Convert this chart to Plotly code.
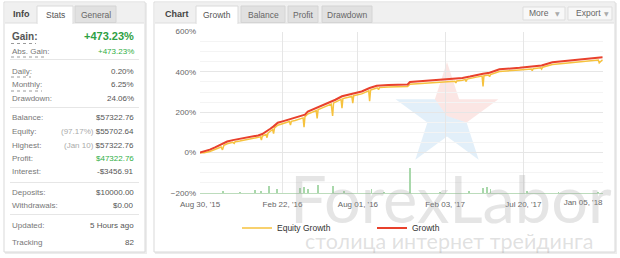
import plotly.graph_objects as go

W, H = 620, 258
FONT = "Liberation Sans, Arial, sans-serif"

# ---------------- data ----------------
growth_dates = ["2015-08-30", "2015-09-08", "2015-09-20", "2015-10-01", "2015-10-12", "2015-10-20",
                "2015-10-27", "2015-11-08", "2015-11-23", "2015-12-12", "2016-01-01", "2016-01-10",
                "2016-01-20", "2016-01-27", "2016-02-03", "2016-02-12", "2016-02-24", "2016-03-05",
                "2016-03-20", "2016-04-03", "2016-04-10", "2016-04-16", "2016-04-28", "2016-05-08",
                "2016-05-25", "2016-06-08", "2016-06-14", "2016-06-28", "2016-07-14", "2016-07-21",
                "2016-08-09", "2016-08-26", "2016-09-10", "2016-10-05", "2016-11-15", "2016-11-20",
                "2016-12-20", "2017-01-20", "2017-02-19", "2017-03-12", "2017-03-28", "2017-04-11",
                "2017-04-25", "2017-05-09", "2017-05-30", "2017-07-12", "2017-08-16", "2017-08-28",
                "2017-09-20", "2017-10-18", "2017-11-17", "2017-12-24", "2018-01-05"]
growth = [0, 6, 15, 26, 38, 48,
          55, 62, 68, 76, 85, 92,
          105, 118, 130, 148, 156, 163,
          170, 180, 188, 203, 215, 225,
          240, 256, 262, 279, 288, 293,
          303, 320, 331, 335, 338, 350,
          355, 359, 363, 370, 377, 385,
          391, 396, 413, 420, 428, 432,
          448, 454, 460, 469, 473]

equity_dates = ["2015-08-30", "2015-09-08", "2015-09-20", "2015-10-01", "2015-10-14", "2015-10-17",
                "2015-10-20", "2015-10-27", "2015-11-08", "2015-11-11", "2015-11-13", "2015-11-23",
                "2015-12-12", "2016-01-01", "2016-01-06", "2016-01-08", "2016-01-10", "2016-01-14",
                "2016-01-18", "2016-01-20", "2016-01-22", "2016-01-27", "2016-02-01", "2016-02-03",
                "2016-02-05", "2016-02-12", "2016-02-24", "2016-03-05", "2016-03-08", "2016-03-10",
                "2016-03-12", "2016-03-20", "2016-04-03", "2016-04-06", "2016-04-08", "2016-04-10",
                "2016-04-16", "2016-04-28", "2016-05-04", "2016-05-06", "2016-05-08", "2016-05-12",
                "2016-05-25", "2016-06-05", "2016-06-08", "2016-06-10", "2016-06-14", "2016-06-24",
                "2016-06-26", "2016-06-28", "2016-06-30", "2016-07-14", "2016-07-19", "2016-07-21",
                "2016-07-23", "2016-08-09", "2016-08-22", "2016-08-24", "2016-08-26", "2016-08-28",
                "2016-09-10", "2016-09-12", "2016-09-14", "2016-09-16", "2016-10-05", "2016-11-15",
                "2016-11-20", "2016-12-20", "2017-01-20", "2017-02-19", "2017-02-24", "2017-02-26",
                "2017-02-28", "2017-03-12", "2017-03-18", "2017-03-20", "2017-03-22", "2017-04-11",
                "2017-04-23", "2017-04-25", "2017-04-27", "2017-05-07", "2017-05-09", "2017-05-11",
                "2017-05-30", "2017-07-12", "2017-08-06", "2017-08-08", "2017-08-10", "2017-08-26",
                "2017-08-28", "2017-08-30", "2017-09-20", "2017-10-18", "2017-11-17", "2017-12-24",
                "2017-12-27", "2017-12-29", "2018-01-02", "2018-01-05"]
equity = [0, 0, 6, 15, 28, 14,
          36, 44, 51, 46, 54, 58,
          66, 74, 78, 62, 82, 86,
          90, 74, 96, 106, 114, 94,
          122, 136, 145, 152, 154, 136,
          155, 159, 168, 172, 126, 178,
          191, 204, 208, 170, 213, 217,
          228, 240, 182, 246, 250, 262,
          264, 220, 268, 276, 279, 245,
          282, 291, 303, 306, 255, 310,
          320, 320, 312, 322, 325, 328,
          339, 344, 348, 352, 353, 345,
          355, 359, 362, 352, 364, 374,
          379, 328, 381, 384, 376, 387,
          402, 409, 414, 406, 416, 420,
          414, 423, 437, 443, 449, 458,
          459, 445, 456, 460]

bar_dates = ["2015-10-18", "2015-11-23", "2015-12-25", "2016-01-08", "2016-01-25", "2016-02-10",
             "2016-03-31", "2016-04-08", "2016-04-16", "2016-05-07", "2016-06-08", "2016-07-03",
             "2016-08-30", "2016-09-25", "2016-11-20", "2017-01-23", "2017-03-27", "2017-04-25",
             "2017-05-04", "2017-05-11", "2017-07-27", "2017-10-03", "2017-12-26"]
bar_values = [10, 8, 15, 10, 35, 20,
              25, 30, 20, 40, 35, 12,
              20, 8, 125, 6, 10, 25,
              30, 22, 10, 6, 8]

tick_dates = ["2015-08-30", "2016-02-22", "2016-08-01", "2017-02-03", "2017-07-20", "2018-01-05"]
tick_labels = ["Aug 30, '15", "Feb 22, '16", "Aug 01, '16", "Feb 03, '17", "Jul 20, '17", "Jan 05, '18"]
y_ticks = [-200, 0, 200, 400, 600]
y_labels = [f"{v}%".replace("-", "\u2212") for v in y_ticks]

info_rows = [
    ("Abs. Gain:", "+473.23%", 51),
    ("Daily:", "0.20%", 71),
    ("Monthly:", "6.25%", 85),
    ("Drawdown:", "24.06%", 98),
    ("Balance:", "$57322.76", 118),
    ("Equity:", "<span style='color:#aaa'>(97.17%)</span> $55702.64", 131),
    ("Highest:", "<span style='color:#aaa'>(Jan 10)</span> $57322.76", 145),
    ("Profit:", "$47322.76", 158),
    ("Interest:", "-$3456.91", 171),
    ("Deposits:", "$10000.00", 192),
    ("Withdrawals:", "$0.00", 205),
    ("Updated:", "5 Hours ago", 225),
    ("Tracking", "82", 242),
]


# ---------------- helpers ----------------
def X(p):
    return p / W


def Y(p):
    return 1 - p / H


def rect(x0, y0, x1, y1, fill, line=None, lw=1):
    return dict(type="rect", xref="paper", yref="paper", layer="below",
                x0=X(x0), x1=X(x1), y0=Y(y1), y1=Y(y0), fillcolor=fill,
                line=dict(color=line if line else "rgba(0,0,0,0)", width=lw if line else 0))


def hline(x0, x1, y, color, dash="solid", layer="below"):
    return dict(type="line", xref="paper", yref="paper", layer=layer,
                x0=X(x0), x1=X(x1), y0=Y(y), y1=Y(y),
                line=dict(color=color, width=1, dash=dash))


def text(x, y, s, size=8, color="#666", anchor="left", bold=False, family=FONT):
    return dict(xref="paper", yref="paper", x=X(x), y=Y(y), text=s, showarrow=False,
                xanchor=anchor, yanchor="middle", borderpad=0,
                font=dict(family=family, size=size, color=color, weight="bold" if bold else "normal"))


def path(pts):
    return "M " + " L ".join(f"{X(a):.5f},{Y(b):.5f}" for a, b in pts) + " Z"


# ---------------- figure ----------------
fig = go.Figure()
fig.add_trace(go.Bar(x=bar_dates, y=bar_values, base=-200, width=2 * 86400000,
                     marker=dict(color="#a9d8ab", line=dict(width=0)), showlegend=False,
                     hoverinfo="skip"))
fig.add_trace(go.Scatter(x=equity_dates, y=equity, mode="lines", name="Equity Growth",
                         line=dict(color="#f6c23e", width=1.5)))
fig.add_trace(go.Scatter(x=growth_dates, y=growth, mode="lines", name="Growth",
                         line=dict(color="#e8412c", width=2)))
# carrier for the overlay axis that holds the right-aligned last date label
fig.add_trace(go.Scatter(x=growth_dates[-1:], y=growth[-1:], mode="none", xaxis="x2",
                         showlegend=False, hoverinfo="skip"))

shapes = []
# left panel
shapes.append(rect(5, 3, 147, 254, "#ececec"))
shapes.append(rect(4, 2, 145, 252, "#ffffff", "#d9d9d9"))
shapes.append(rect(5, 3, 144, 23, "#f0f0f0"))
shapes.append(hline(5, 144, 23, "#dedede"))
shapes.append(rect(37, 6, 73, 23.5, "#ffffff", "#dadada"))
shapes.append(hline(37.5, 72.5, 23.5, "#ffffff"))
shapes.append(rect(75, 6, 116, 22.5, "#e1e1e1", "#d4d4d4"))
for yy in (59.5, 107.5, 182.5, 214.5):
    shapes.append(hline(10, 139, yy, "#e6e6e6"))
for x0, x1, yy in ((11, 36, 43.5), (11, 47, 57), (11, 31, 77), (11, 42, 91)):
    shapes.append(hline(x0, x1, yy, "#9a9a9a", dash="dot"))

# right panel
shapes.append(rect(155, 3, 617, 254, "#ececec"))
shapes.append(rect(154, 2, 615, 252, "#ffffff", "#d9d9d9"))
shapes.append(rect(155, 3, 614, 23, "#f0f0f0"))
shapes.append(hline(155, 614, 23, "#dedede"))
shapes.append(rect(196, 6, 238, 23.5, "#ffffff", "#dadada"))
shapes.append(hline(196.5, 237.5, 23.5, "#ffffff"))
for x0, x1 in ((241, 285), (288, 318), (322, 372)):
    shapes.append(rect(x0, 6, x1, 22.5, "#e1e1e1", "#d4d4d4"))
for x0, x1 in ((523, 565), (568, 612)):
    shapes.append(rect(x0, 7, x1, 20, "#f8f8f8", "#dddddd"))

# watermark star
red_star = [(447, 62), (459.1, 99.3), (498.4, 99.3), (466.6, 122.4), (447, 116), (434.9, 99.3)]
blue_star = [(434.9, 99.3), (395.6, 99.3), (427.4, 122.4), (415.3, 159.7), (447, 136.6),
             (478.7, 159.7), (466.6, 122.4), (447, 116)]
shapes.append(dict(type="path", xref="paper", yref="paper", layer="below", path=path(red_star),
                   fillcolor="rgba(236,130,118,0.20)", line=dict(width=0)))
shapes.append(dict(type="path", xref="paper", yref="paper", layer="below", path=path(blue_star),
                   fillcolor="rgba(110,175,225,0.20)", line=dict(width=0)))

ann = []
# left panel texts
ann.append(text(12, 14, "Info", 9, "#444", bold=True))
ann.append(text(55, 15, "Stats", 8.5, "#555", anchor="center"))
ann.append(text(95.5, 15, "General", 8.5, "#666", anchor="center"))
ann.append(text(11, 36, "Gain:", 10, "#555", bold=True))
ann.append(text(135, 36, "+473.23%", 11, "#2ea043", anchor="right", bold=True))
for lab, val, yy in info_rows:
    ann.append(text(11, yy, lab, 8, "#777"))
    col = "#555"
    if lab in ("Abs. Gain:", "Profit:"):
        col = "#2fae45"
    ann.append(text(135, yy, val, 8, col, anchor="right"))

# right panel texts
ann.append(text(164, 14, "Chart", 9, "#444", bold=True))
ann.append(text(217, 15, "Growth", 8.5, "#555", anchor="center"))
ann.append(text(263, 15, "Balance", 8.5, "#666", anchor="center"))
ann.append(text(303, 15, "Profit", 8.5, "#666", anchor="center"))
ann.append(text(347, 15, "Drawdown", 8.5, "#666", anchor="center"))
ann.append(text(539, 13.5, "More", 8.5, "#666", anchor="center"))
ann.append(text(557, 13.5, "▼", 6, "#aaa", anchor="center", family="DejaVu Sans"))
ann.append(text(588, 13.5, "Export", 8.5, "#666", anchor="center"))
ann.append(text(606, 13.5, "▼", 6, "#aaa", anchor="center", family="DejaVu Sans"))

# watermark text
ann.append(text(451, 198, "ForexLabor", 65, "rgba(160,160,160,0.28)", anchor="center", family="Lato"))
ann.append(text(449, 241, "столица интернет трейдинга", 21.5, "rgba(160,160,160,0.32)",
                anchor="center", family="Lato"))

xdom = [X(200), X(603)]
xrange_ = ["2015-08-30", "2018-01-06"]
fig.update_layout(
    template="none",
    width=W, height=H, autosize=False,
    margin=dict(l=0, r=0, t=0, b=0, pad=0),
    paper_bgcolor="#ffffff", plot_bgcolor="rgba(0,0,0,0)",
    font=dict(family=FONT, size=8, color="#666"),
    shapes=shapes, annotations=ann,
    bargap=0,
    showlegend=True,
    legend=dict(orientation="h", x=X(237), y=Y(228), xanchor="left", yanchor="middle",
                font=dict(family=FONT, size=8.5, color="#333"), bgcolor="rgba(0,0,0,0)",
                entrywidth=90, entrywidthmode="pixels", itemclick=False, borderwidth=0),
    xaxis=dict(type="date", domain=xdom, range=xrange_, automargin=False,
               tickvals=tick_dates, ticktext=tick_labels[:-1] + [""], showgrid=True,
               gridcolor="#e6e6e6", gridwidth=1, showline=True, linecolor="#bcdcbc",
               linewidth=1, zeroline=False, ticks="", tickfont=dict(size=8, color="#666"),
               ticklabelstandoff=3, fixedrange=True),
    xaxis2=dict(type="date", domain=xdom, range=xrange_, overlaying="x", matches="x",
                anchor="y", side="bottom", automargin=False,
                tickvals=tick_dates[-1:], ticktext=tick_labels[-1:], showgrid=False,
                showline=False, zeroline=False, ticks="", ticklabelposition="outside left",
                tickfont=dict(size=8, color="#666"), ticklabelstandoff=3, fixedrange=True),
    yaxis=dict(domain=[Y(193), Y(31.5)], range=[-200, 600], tickvals=y_ticks,
               ticktext=y_labels, showgrid=True, gridcolor="#e6e6e6", zeroline=False,
               automargin=False, showline=False,
               ticks="", tickfont=dict(size=8, color="#666"), ticklabelstandoff=3,
               minor=dict(dtick=50, showgrid=True, gridcolor="#f4f4f4"),
               fixedrange=True),
)

fig.write_html("out.html", config={"displayModeBar": False})
